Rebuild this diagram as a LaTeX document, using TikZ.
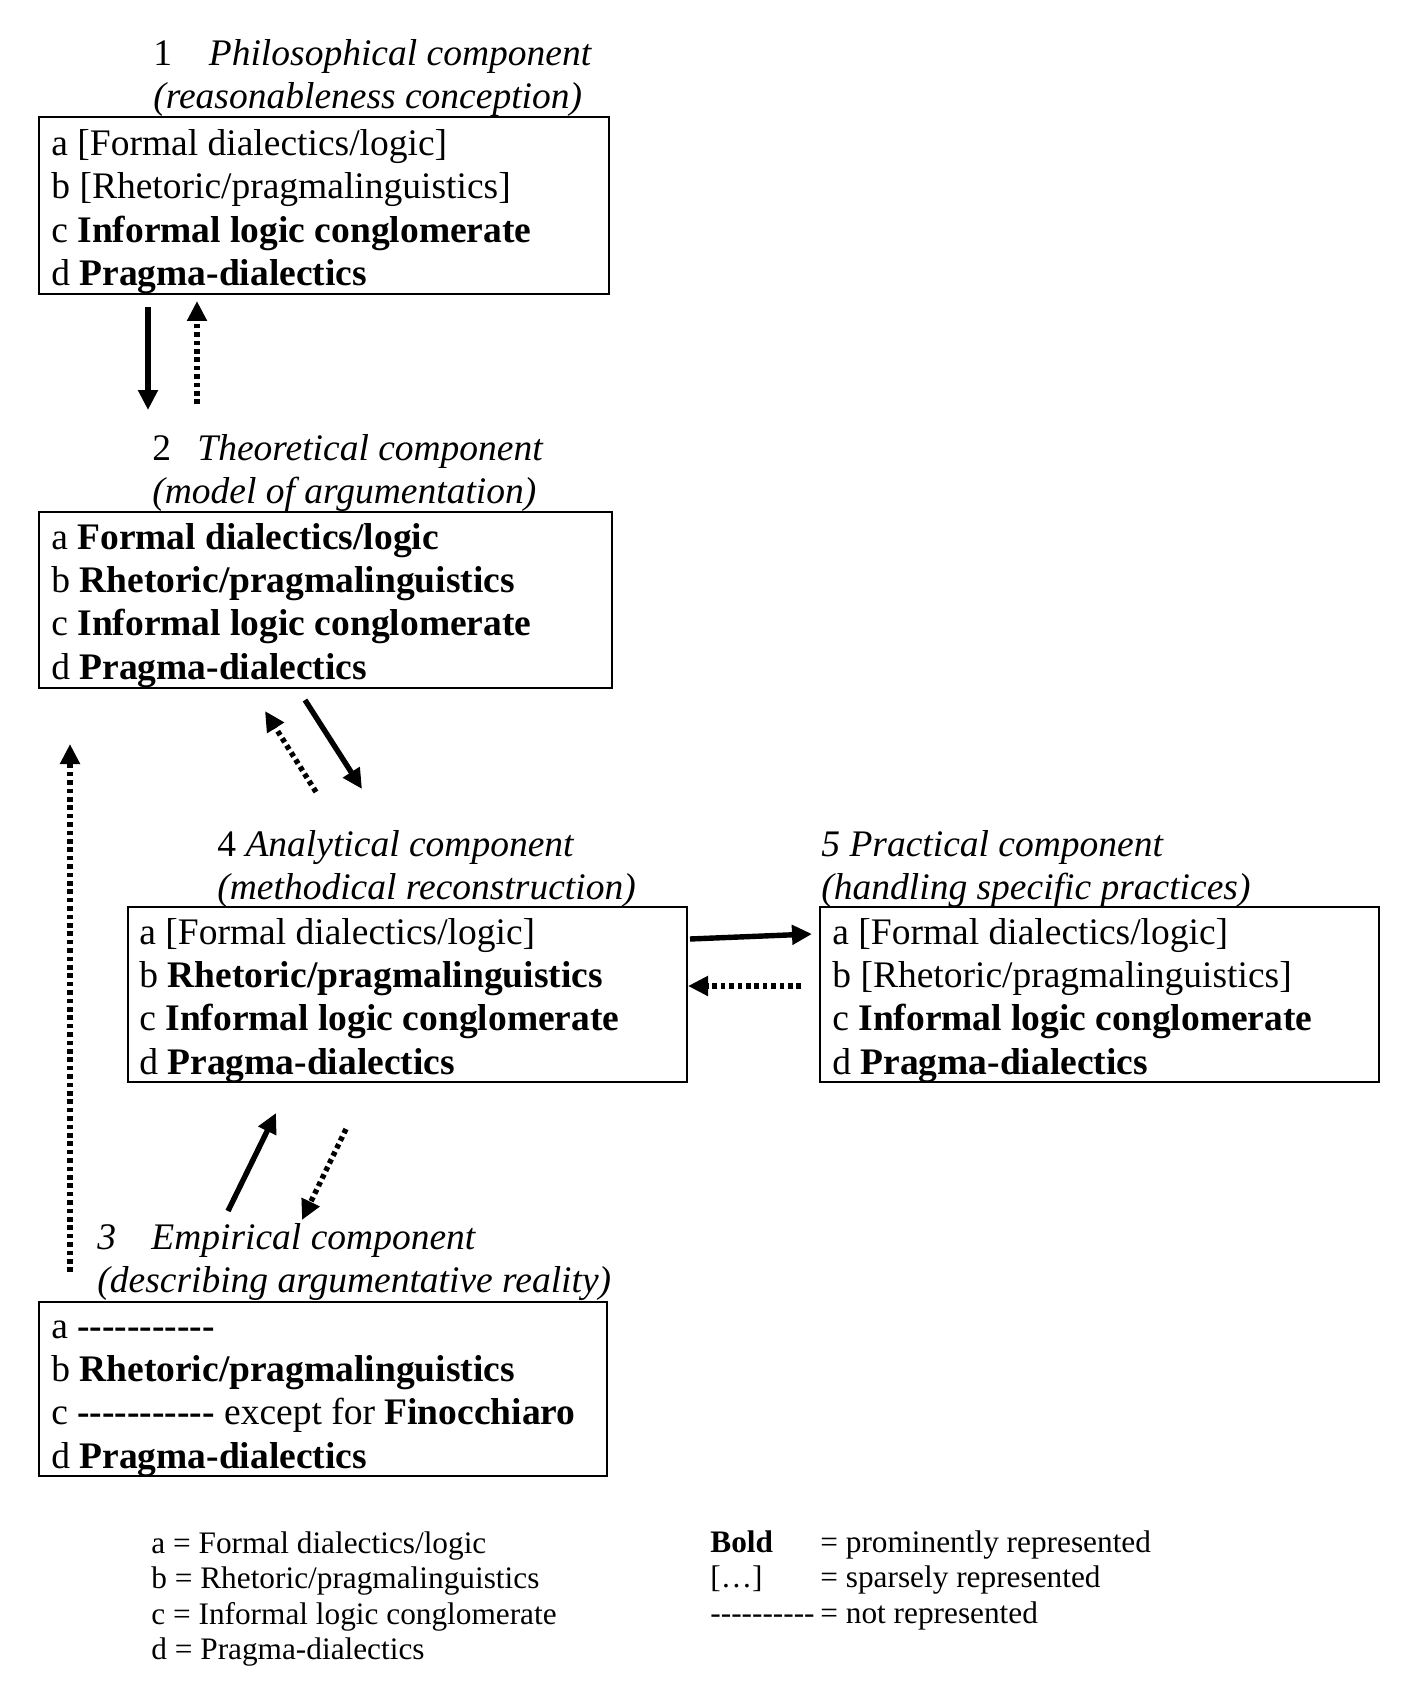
\documentclass[tikz,border=0pt]{standalone}
\usepackage{fontspec}
\setmainfont{Liberation Serif}
\usetikzlibrary{arrows.meta,fit}
\newcommand\hyp{\mbox{-}}
\newcommand\hypsix{\hyp\hyp\hyp\hyp\hyp\hyp}
\newcommand\stackl[2]{\vtop{\baselineskip=#1\lineskiplimit=-30pt\lineskip=0pt #2}}
\tikzset{
  main/.style={font=\fontsize{18.75}{21.7}\selectfont, inner sep=0pt, anchor=base west},
  legend/.style={font=\fontsize{15.65}{17.8}\selectfont, inner sep=0pt, anchor=base west},
  boxst/.style={draw, line width=1pt, inner sep=0pt},
  tip/.style={-{Triangle[length=10pt,width=9.5pt]}},
  solidarr/.style={tip, line width=2.7pt},
  dotarr/.style={tip, line width=2.7pt, dash pattern=on 2.3pt off 1.9pt},
}
\begin{document}
\begin{tikzpicture}[x=0.5pt,y=-0.5pt]
\useasboundingbox (0,0) rectangle (1406,1690);

% ---------- box frames ----------
\node[boxst, fit={(39,117.5) (609,293.6)}] (b1) {};
\node[boxst, fit={(39,512) (612,688)}] (b2) {};
\node[boxst, fit={(128,907) (687,1082)}] (b4) {};
\node[boxst, fit={(820,907) (1379,1082)}] (b5) {};
\node[boxst, fit={(39,1302) (607,1476)}] (b3) {};

% ---------- titles ----------
\node[main] (h1) at (153,66) {\stackl{21.5pt}{\hbox{\makebox[27.75pt][l]{1}\textit{Philosophical component}}\hbox{\textit{(reasonableness conception)}}}};
\node[main] (h2) at (152,460) {\stackl{21.5pt}{\hbox{\makebox[22.5pt][l]{2}\textit{Theoretical component}}\hbox{\textit{(model of argumentation)}}}};
\node[main] (h4) at (217,856) {\stackl{21.5pt}{\hbox{4 \textit{Analytical component}}\hbox{\textit{(methodical reconstruction)}}}};
\node[main] (h5) at (821,856) {\stackl{21.5pt}{\hbox{\textit{5 Practical component}}\hbox{\textit{(handling specific practices)}}}};
\node[main] (h3) at (97,1249) {\stackl{21.5pt}{\hbox{\textit{\makebox[27pt][l]{3}Empirical component}}\hbox{\textit{(describing argumentative reality)}}}};

% ---------- box contents ----------
\node[main] (t1) at (51,155.5) {\stackl{21.7pt}{%
  \hbox{a [Formal dialectics/logic]}%
  \hbox{b [Rhetoric/pragmalinguistics]}%
  \hbox{c \textbf{Informal logic conglomerate}}%
  \hbox{d \textbf{Pragma-dialectics}}}};
\node[main] (t2) at (51,549) {\stackl{21.7pt}{%
  \hbox{a \textbf{Formal dialectics/logic}}%
  \hbox{b \textbf{Rhetoric/pragmalinguistics}}%
  \hbox{c \textbf{Informal logic conglomerate}}%
  \hbox{d \textbf{Pragma-dialectics}}}};
\node[main] (t4) at (139,944) {\stackl{21.7pt}{%
  \hbox{a [Formal dialectics/logic]}%
  \hbox{b \textbf{Rhetoric/pragmalinguistics}}%
  \hbox{c \textbf{Informal logic conglomerate}}%
  \hbox{d \textbf{Pragma-dialectics}}}};
\node[main] (t5) at (832,944) {\stackl{21.7pt}{%
  \hbox{a [Formal dialectics/logic]}%
  \hbox{b [Rhetoric/pragmalinguistics]}%
  \hbox{c \textbf{Informal logic conglomerate}}%
  \hbox{d \textbf{Pragma-dialectics}}}};
\node[main] (t3) at (51,1338) {\stackl{21.7pt}{%
  \hbox{a \textbf{\hypsix\hyp\hyp\hyp\hyp\hyp}}%
  \hbox{b \textbf{Rhetoric/pragmalinguistics}}%
  \hbox{c \textbf{\hypsix\hyp\hyp\hyp\hyp\hyp} except for \textbf{Finocchiaro}}%
  \hbox{d \textbf{Pragma-dialectics}}}};

% ---------- legend ----------
\node[legend] (l1) at (151,1553) {\stackl{17.8pt}{%
  \hbox{a = Formal dialectics/logic}%
  \hbox{b = Rhetoric/pragmalinguistics}%
  \hbox{c = Informal logic conglomerate}%
  \hbox{d = Pragma-dialectics}}};
\node[legend] (l2) at (710,1552) {\stackl{17.8pt}{%
  \hbox{\textbf{Bold}}%
  \hbox{[…]}%
  \hbox{\hypsix\hyp\hyp\hyp\hyp}}};
\node[legend] (l3) at (820,1552) {\stackl{17.8pt}{%
  \hbox{= prominently represented}%
  \hbox{= sparsely represented}%
  \hbox{= not represented}}};

% ---------- connector ends ----------
\coordinate (a12s) at (148,307);  \coordinate (a12e) at (148,410);
\coordinate (a21s) at (197,404);  \coordinate (a21e) at (197,301);
\coordinate (a24s) at (305,700);  \coordinate (a24e) at (362,789);
\coordinate (a42s) at (316,792);  \coordinate (a42e) at (265,711);
\coordinate (a45s) at (690,939);  \coordinate (a45e) at (812,934);
\coordinate (a54s) at (801,986);  \coordinate (a54e) at (688,986);
\coordinate (a34s) at (228,1211); \coordinate (a34e) at (276,1113);
\coordinate (a43s) at (346,1129); \coordinate (a43e) at (302,1220);
\coordinate (a32s) at (70,1272);  \coordinate (a32e) at (70,744);

% ---------- connectors ----------
\draw[solidarr] (a12s) -- (a12e);
\draw[dotarr]   (a21s) -- (a21e);
\draw[solidarr] (a24s) -- (a24e);
\draw[dotarr]   (a42s) -- (a42e);
\draw[solidarr] (a45s) -- (a45e);
\draw[dotarr]   (a54s) -- (a54e);
\draw[solidarr] (a34s) -- (a34e);
\draw[dotarr]   (a43s) -- (a43e);
\draw[dotarr]   (a32s) -- (a32e);
\end{tikzpicture}
\end{document}
